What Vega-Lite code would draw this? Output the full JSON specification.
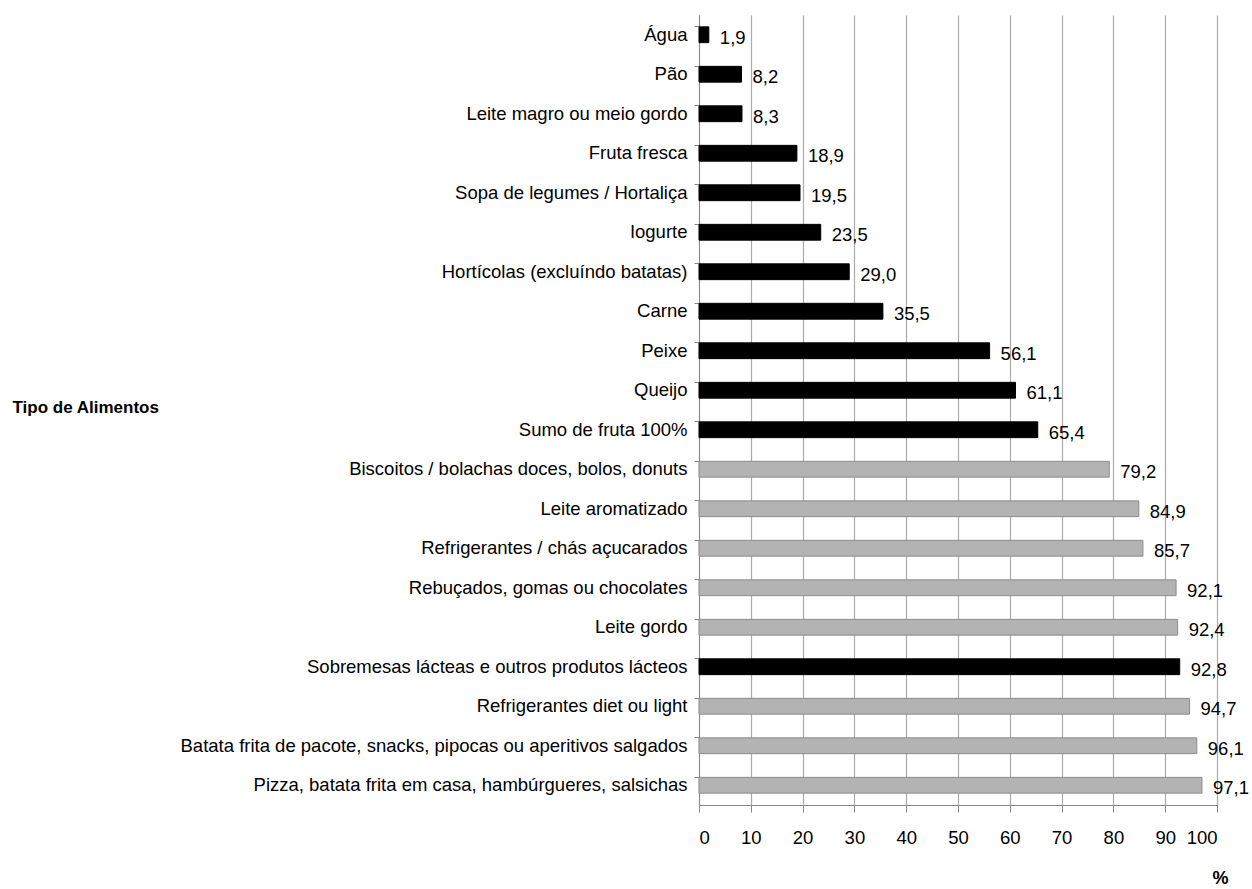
{
  "$schema": "https://vega.github.io/schema/vega-lite/v6.json",
  "width": 518,
  "height": 790,
  "autosize": {"type": "none"},
  "padding": {"left": 699, "top": 15, "right": 35, "bottom": 84},
  "background": "white",
  "config": {
    "locale": {"number": {"decimal": ",", "thousands": ".", "grouping": [3], "currency": ["", " €"]}},
    "view": {"stroke": null},
    "font": "Liberation Sans"
  },
  "data": {
    "values": [
      {"alimento": "Água", "valor": 1.9, "grupo": "a"},
      {"alimento": "Pão", "valor": 8.2, "grupo": "a"},
      {"alimento": "Leite magro ou meio gordo", "valor": 8.3, "grupo": "a"},
      {"alimento": "Fruta fresca", "valor": 18.9, "grupo": "a"},
      {"alimento": "Sopa de legumes / Hortaliça", "valor": 19.5, "grupo": "a"},
      {"alimento": "Iogurte", "valor": 23.5, "grupo": "a"},
      {"alimento": "Hortícolas (excluíndo batatas)", "valor": 29.0, "grupo": "a"},
      {"alimento": "Carne", "valor": 35.5, "grupo": "a"},
      {"alimento": "Peixe", "valor": 56.1, "grupo": "a"},
      {"alimento": "Queijo", "valor": 61.1, "grupo": "a"},
      {"alimento": "Sumo de fruta 100%", "valor": 65.4, "grupo": "a"},
      {"alimento": "Biscoitos / bolachas doces, bolos, donuts", "valor": 79.2, "grupo": "b"},
      {"alimento": "Leite aromatizado", "valor": 84.9, "grupo": "b"},
      {"alimento": "Refrigerantes / chás açucarados", "valor": 85.7, "grupo": "b"},
      {"alimento": "Rebuçados, gomas ou chocolates", "valor": 92.1, "grupo": "b"},
      {"alimento": "Leite gordo", "valor": 92.4, "grupo": "b"},
      {"alimento": "Sobremesas lácteas e outros produtos lácteos", "valor": 92.8, "grupo": "a"},
      {"alimento": "Refrigerantes diet ou light", "valor": 94.7, "grupo": "b"},
      {"alimento": "Batata frita de pacote, snacks, pipocas ou aperitivos salgados", "valor": 96.1, "grupo": "b"},
      {"alimento": "Pizza, batata frita em casa, hambúrgueres, salsichas", "valor": 97.1, "grupo": "b"}
    ]
  },
  "encoding": {
    "y": {
      "field": "alimento", "type": "nominal", "sort": null,
      "scale": {"paddingInner": 0.6, "paddingOuter": 0.3},
      "axis": {
        "title": "Tipo de Alimentos",
        "titleFont": "Liberation Sans", "titleFontSize": 17, "titleFontWeight": "bold", "titleColor": "black",
        "titleAngle": 0, "titleAlign": "left", "titleBaseline": "middle",
        "titleX": -687, "titleY": 392,
        "labelFontSize": 18.5, "labelColor": "black", "labelLimit": 0, "labelPadding": 7,
        "bandPosition": 0, "tickSize": 5, "tickColor": "#888", "domainColor": "#888",
        "grid": false
      }
    },
    "x": {
      "field": "valor", "type": "quantitative",
      "scale": {"domain": [0, 100], "nice": false},
      "axis": {
        "values": [0,10,20,30,40,50,60,70,80,90,100],
        "title": "%",
        "titleFont": "Liberation Sans", "titleFontSize": 18, "titleFontWeight": "bold", "titleColor": "black",
        "titleX": 521, "titleY": 73, "titleAlign": "center", "titleBaseline": "middle",
        "labelFontSize": 18.5, "labelColor": "black", "labelPadding": 16,
        "tickSize": 7, "tickColor": "#888", "domainColor": "#888",
        "grid": true, "gridColor": "#aaaaaa", "gridWidth": 1.2
      }
    }
  },
  "layer": [
    {
      "mark": {"type": "bar", "strokeWidth": 1},
      "encoding": {
        "color": {"field": "grupo", "type": "nominal", "scale": {"domain": ["a", "b"], "range": ["#000000", "#b3b3b3"]}, "legend": null},
        "stroke": {"field": "grupo", "type": "nominal", "scale": {"domain": ["a", "b"], "range": ["#000000", "#8c8c8c"]}, "legend": null}
      }
    },
    {
      "mark": {"type": "text", "align": "left", "baseline": "middle", "dx": 11, "dy": 3, "fontSize": 18.5, "color": "black"},
      "encoding": {
        "text": {"field": "valor", "type": "quantitative", "format": ".1f"}
      }
    }
  ]
}
